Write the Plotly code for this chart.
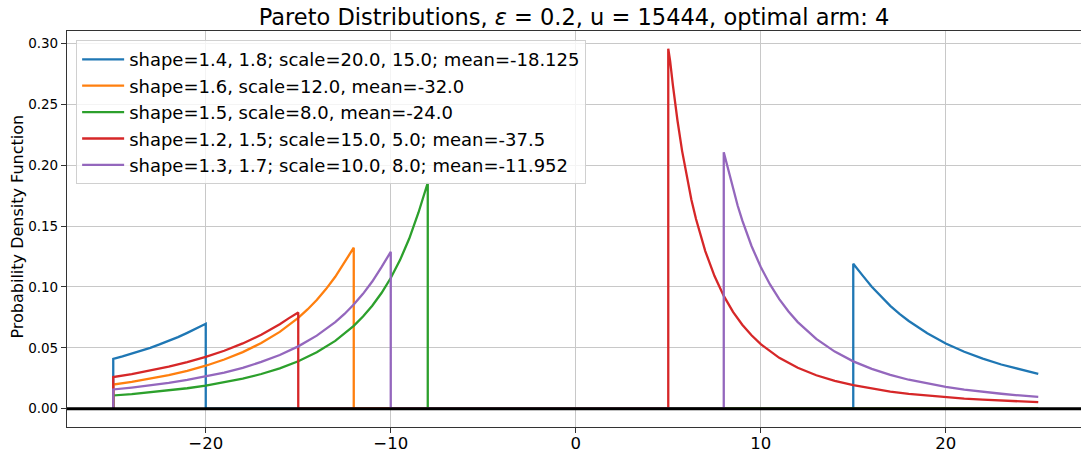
import plotly.graph_objects as go

# ---- data ----
labels = [
    "shape=1.4, 1.8; scale=20.0, 15.0; mean=-18.125",
    "shape=1.6, scale=12.0, mean=-32.0",
    "shape=1.5, scale=8.0, mean=-24.0",
    "shape=1.2, 1.5; scale=15.0, 5.0; mean=-37.5",
    "shape=1.3, 1.7; scale=10.0, 8.0; mean=-11.952",
]
colors = ["#1f77b4", "#ff7f0e", "#2ca02c", "#d62728", "#9467bd"]

# arm 0 (blue)
blue_x_neg = [-25, -24.5, -24, -23.5, -23, -22.5, -22, -21.5, -21, -20.5, -20]
blue_y_neg = [0.0410, 0.0430, 0.0452, 0.0475, 0.0500, 0.0528, 0.0557, 0.0588,
              0.0623, 0.0660, 0.0697]
blue_x_pos = [15, 15.25, 15.5, 16, 16.5, 17, 17.5, 18, 19, 20, 21, 22, 23, 24, 25]
blue_y_pos = [0.1190, 0.1146, 0.1095, 0.1002, 0.0919, 0.0845, 0.0779, 0.0720,
              0.0619, 0.0536, 0.0468, 0.0411, 0.0363, 0.0322, 0.0287]

# arm 1 (orange)
orange_x_neg = [-25, -24, -23, -22, -21, -20, -19, -18, -17, -16, -15,
                -14.5, -14, -13.5, -13, -12.5, -12]
orange_y_neg = [0.0198, 0.0220, 0.0246, 0.0276, 0.0311, 0.0353, 0.0404, 0.0465,
                0.0539, 0.0631, 0.0746, 0.0815, 0.0893, 0.0982, 0.1083, 0.1199,
                0.1322]
orange_x_pos = []
orange_y_pos = []

# arm 2 (green)
green_x_neg = [-25, -24, -23, -22, -21, -20, -19, -18, -17, -16, -15, -14, -13,
               -12, -11.5, -11, -10.5, -10, -9.5, -9, -8.5, -8]
green_y_neg = [0.0109, 0.0120, 0.0134, 0.0150, 0.0168, 0.0190, 0.0216, 0.0247,
               0.0285, 0.0332, 0.0390, 0.0463, 0.0557, 0.0680, 0.0757, 0.0846,
               0.0950, 0.1073, 0.1220, 0.1397, 0.1611, 0.1855]
green_x_pos = []
green_y_pos = []

# arm 3 (red)
red_x_neg = [-25, -24, -23, -22, -21, -20, -19, -18, -17, -16.5, -16, -15.5, -15]
red_y_neg = [0.0260, 0.0285, 0.0312, 0.0345, 0.0382, 0.0425, 0.0476, 0.0536,
             0.0607, 0.0649, 0.0694, 0.0744, 0.0790]
red_x_pos = [5, 5.1, 5.25, 5.4, 5.5, 5.75, 6, 6.25, 6.5, 7, 7.5, 8, 8.5, 9, 9.5,
             10, 11, 12, 13, 14, 15, 16, 17, 18, 19, 20, 21, 22, 23, 24, 25]
red_y_pos = [0.2955, 0.2855, 0.2656, 0.2475, 0.2364, 0.2115, 0.1902, 0.1716,
             0.1557, 0.1294, 0.1089, 0.0926, 0.0795, 0.0690, 0.0603, 0.0530,
             0.0418, 0.0336, 0.0275, 0.0229, 0.0193, 0.0164, 0.0141, 0.0122,
             0.0107, 0.0094, 0.0083, 0.0074, 0.0066, 0.0059, 0.0054]

# arm 4 (purple)
purple_x_neg = [-25, -24, -23, -22, -21, -20, -19, -18, -17, -16, -15, -14, -13,
                -12.5, -12, -11.5, -11, -10.5, -10]
purple_y_neg = [0.0158, 0.0174, 0.0191, 0.0212, 0.0236, 0.0264, 0.0297, 0.0336,
                0.0384, 0.0441, 0.0512, 0.0600, 0.0711, 0.0778, 0.0855, 0.0943,
                0.1044, 0.1162, 0.1288]
purple_x_pos = [8, 8.25, 8.5, 8.75, 9, 9.5, 10, 10.5, 11, 11.5, 12, 13, 14, 15,
                16, 17, 18, 19, 20, 21, 22, 23, 24, 25]
purple_y_pos = [0.2105, 0.1956, 0.1804, 0.1668, 0.1546, 0.1336, 0.1163, 0.1020,
                0.0899, 0.0798, 0.0711, 0.0573, 0.0469, 0.0389, 0.0327, 0.0278,
                0.0238, 0.0206, 0.0179, 0.0157, 0.0138, 0.0123, 0.0109, 0.0098]

x_end = 25
arms = [
    (blue_x_neg, blue_y_neg, blue_x_pos, blue_y_pos),
    (orange_x_neg, orange_y_neg, orange_x_pos, orange_y_pos),
    (green_x_neg, green_y_neg, green_x_pos, green_y_pos),
    (red_x_neg, red_y_neg, red_x_pos, red_y_pos),
    (purple_x_neg, purple_y_neg, purple_x_pos, purple_y_pos),
]

fig = go.Figure()
for (xn, yn, xp, yp), lab, col in zip(arms, labels, colors):
    xs = [xn[0]] + xn + [xn[-1]]
    ys = [0] + yn + [0]
    if xp:
        xs += [xp[0]] + xp
        ys += [0] + yp
    else:
        xs += [x_end]
        ys += [0]
    fig.add_trace(go.Scatter(x=xs, y=ys, mode="lines", name=lab,
                             line=dict(color=col, width=2.3)))

fig.add_hline(y=0, line=dict(color="black", width=3))

xticks = [-20, -10, 0, 10, 20]
xticktext = ["\u221220", "\u221210", "0", "10", "20"]
yticks = [0.0, 0.05, 0.10, 0.15, 0.20, 0.25, 0.30]
yticktext = ["0.00", "0.05", "0.10", "0.15", "0.20", "0.25", "0.30"]

W, H = 1081, 455
fig.update_layout(
    width=W, height=H,
    margin=dict(l=67, r=0, t=31, b=28, autoexpand=False),
    paper_bgcolor="white", plot_bgcolor="white",
    font=dict(family="DejaVu Sans", color="black"),
    title=dict(text="Pareto Distributions, <i>ε</i> = 0.2, u = 15444, optimal arm: 4",
               x=0.5, xref="paper", xanchor="center",
               y=1 - 9.5 / H, yref="container", yanchor="top",
               font=dict(size=22.5, color="black")),
    legend=dict(x=0.009, y=0.977, xanchor="left", yanchor="top",
                bgcolor="rgba(255,255,255,0.8)", bordercolor="#d0d0d0",
                borderwidth=1, font=dict(size=18), itemwidth=42),
    showlegend=True,
    annotations=[dict(text="Probability Density Function", textangle=-90,
                      xref="paper", yref="paper", x=-49.5 / 1014, y=0.505,
                      xanchor="center", yanchor="middle", showarrow=False,
                      font=dict(size=16, color="black"))],
)
fig.update_xaxes(range=[-27.5, 27.31], tickvals=xticks, ticktext=xticktext,
                 automargin=False, ticklabelstandoff=-4,
                 showgrid=True, gridcolor="#c8c8c8", gridwidth=1,
                 zeroline=False, showline=True, linecolor="#333", linewidth=1.2,
                 mirror=True, ticks="outside", ticklen=5, tickcolor="#333",
                 tickfont=dict(size=16.5))
fig.update_yaxes(range=[-0.015, 0.3101], tickvals=yticks, ticktext=yticktext,
                 automargin=False,
                 showgrid=True, gridcolor="#c8c8c8", gridwidth=1,
                 zeroline=False, showline=True, linecolor="#333", linewidth=1.2,
                 mirror=False, ticks="outside", ticklen=5, tickcolor="#333",
                 tickfont=dict(size=13.5))

fig.write_html("out.html",
               config={"displayModeBar": False},
               post_script="document.body.style.margin='0px';"
                           "document.body.style.overflow='hidden';")
